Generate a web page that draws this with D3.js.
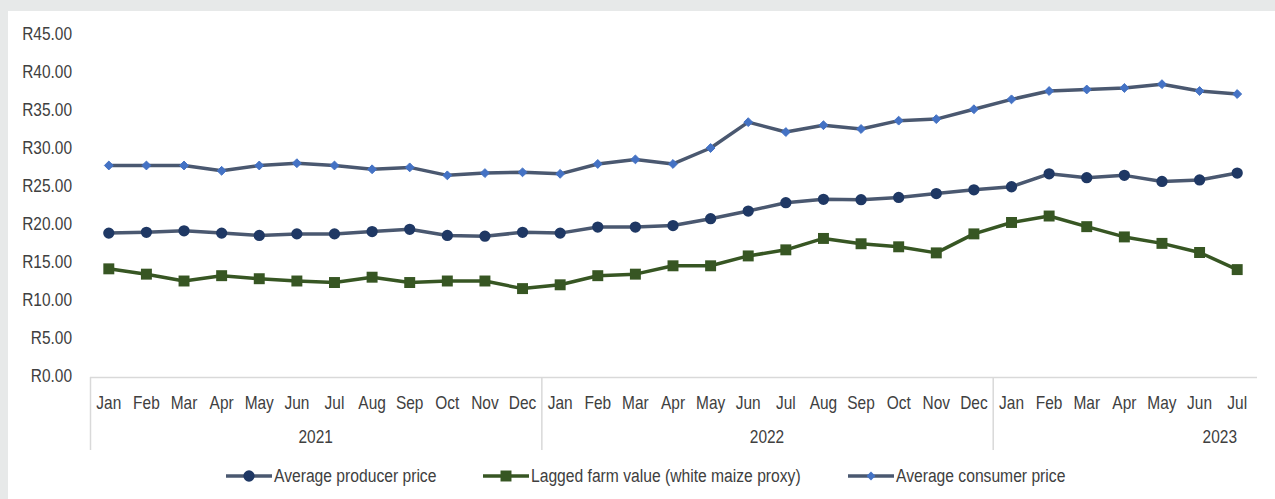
<!DOCTYPE html>
<html>
<head>
<meta charset="utf-8">
<script src="https://cdn.jsdelivr.net/npm/d3@7"></script>
<style>
  html, body { margin: 0; padding: 0; background: #e7e9e9; }
  svg { display: block; }
  text { font-family: 'Liberation Sans', Arial, sans-serif; fill: #404040; }
</style>
</head>
<body>
<svg id="chart" width="1275" height="499"></svg>
<script>
const months = ["Jan","Feb","Mar","Apr","May","Jun","Jul","Aug","Sep","Oct","Nov","Dec",
                "Jan","Feb","Mar","Apr","May","Jun","Jul","Aug","Sep","Oct","Nov","Dec",
                "Jan","Feb","Mar","Apr","May","Jun","Jul"];
const years = ["2021","2022","2023"];
const yearSpans = [12, 12, 7];
const yTicks = [0,5,10,15,20,25,30,35,40,45];

const producer = [18.8,18.9,19.1,18.8,18.5,18.7,18.7,19.0,19.3,18.5,18.4,18.9,
                  18.8,19.6,19.6,19.8,20.7,21.7,22.8,23.25,23.2,23.5,24.0,24.5,
                  24.9,26.6,26.1,26.4,25.6,25.8,26.7];
const lagged =   [14.1,13.4,12.5,13.2,12.8,12.5,12.3,13.0,12.3,12.5,12.5,11.5,
                  12.0,13.2,13.4,14.5,14.5,15.8,16.6,18.1,17.4,17.0,16.2,18.7,
                  20.2,21.05,19.65,18.3,17.45,16.25,14.0];
const consumer = [27.7,27.7,27.7,27.0,27.7,28.0,27.7,27.2,27.45,26.4,26.7,26.8,
                  26.6,27.9,28.5,27.9,30.0,33.4,32.1,33.0,32.5,33.6,33.8,35.1,
                  36.4,37.5,37.7,37.9,38.4,37.5,37.1];

const seriesNames = ["Average producer price","Lagged farm value (white maize proxy)","Average consumer price"];

const SX = 0.86;
const FS = 18;

const svg = d3.select("#chart");
svg.append("rect").attr("x", 8).attr("y", 11).attr("width", 1275 - 8).attr("height", 499 - 11).attr("fill", "#ffffff");

const plotLeft = 90, plotRight = 1256, plotTop = 34, plotBottom = 376;
const x = d3.scaleBand().domain(d3.range(months.length)).range([plotLeft, plotRight]).padding(0);
const y = d3.scaleLinear().domain([0, 45]).range([plotBottom, plotTop]);
const cx = i => x(i) + x.bandwidth() / 2;

function addText(parent, px, py, txt, anchor, sx) {
  return parent.append("text")
    .attr("transform", `translate(${px},${py}) scale(${sx || SX},1)`)
    .attr("text-anchor", anchor || "start")
    .attr("font-size", FS)
    .text(txt);
}

// y axis labels
const yAxis = d3.axisLeft(y).tickValues(yTicks).tickSize(0).tickPadding(0)
  .tickFormat(d => "R" + d3.format(".2f")(d));
const yg = svg.append("g").attr("transform", "translate(72,0)").call(yAxis);
yg.select(".domain").remove();
yg.selectAll("text").attr("font-size", FS).attr("fill", "#404040")
  .attr("x", 0).attr("transform", `scale(${SX},1)`)
  .style("font-family", "'Liberation Sans', Arial, sans-serif");

// x axis frame
const axisColor = "#d9d9d9";
svg.append("line").attr("x1", plotLeft).attr("x2", plotRight + 1).attr("y1", 377.5).attr("y2", 377.5)
  .attr("stroke", axisColor).attr("stroke-width", 1.5);
let acc = 0;
const boundaries = [0];
yearSpans.forEach(s => { acc += s; boundaries.push(acc); });
boundaries.slice(0, 3).forEach(b => {
  svg.append("line").attr("x1", x(b) + 0.5).attr("x2", x(b) + 0.5).attr("y1", 377).attr("y2", 450)
    .attr("stroke", axisColor).attr("stroke-width", 1.5);
});

// month labels
const mg = svg.append("g");
months.forEach((m, i) => addText(mg, cx(i), 409, m, "middle"));

// year labels
years.forEach((yr, k) => {
  const start = boundaries[k], end = boundaries[k + 1];
  let xpos = (x(start) + x(end - 1) + x.bandwidth()) / 2;
  let anchor = "middle";
  if (k === 2) { xpos = plotRight - 19; anchor = "end"; }
  addText(svg, xpos, 443, yr, anchor);
});

// lines
const lineGen = d3.line().x((d, i) => cx(i)).y(d => y(d));
const lineStroke = "#4a5870";
svg.append("path").datum(consumer).attr("d", lineGen).attr("fill", "none")
  .attr("stroke", lineStroke).attr("stroke-width", 3.5).attr("stroke-linejoin", "round");
svg.append("path").datum(producer).attr("d", lineGen).attr("fill", "none")
  .attr("stroke", lineStroke).attr("stroke-width", 3.5).attr("stroke-linejoin", "round");
svg.append("path").datum(lagged).attr("d", lineGen).attr("fill", "none")
  .attr("stroke", "#375623").attr("stroke-width", 3.5).attr("stroke-linejoin", "round");

// markers
const circ = d3.symbol().type(d3.symbolCircle).size(100);
const sq = d3.symbol().type(d3.symbolSquare).size(120);
const dia = d3.symbol().type(d3.symbolDiamond2).size(50);
svg.append("g").selectAll("path").data(producer).join("path")
  .attr("transform", (d, i) => `translate(${cx(i)},${y(d)})`).attr("d", circ).attr("fill", "#1f3864");
svg.append("g").selectAll("path").data(lagged).join("path")
  .attr("transform", (d, i) => `translate(${cx(i)},${y(d)})`).attr("d", sq).attr("fill", "#375623");
svg.append("g").selectAll("path").data(consumer).join("path")
  .attr("transform", (d, i) => `translate(${cx(i)},${y(d)})`).attr("d", dia)
  .attr("fill", "#4472c4").attr("stroke", "#4472c4").attr("stroke-width", 1);

// legend
const legY = 476;
const legendItems = [
  { name: seriesNames[0], x0: 226, stroke: lineStroke, sym: circ, fill: "#1f3864" },
  { name: seriesNames[1], x0: 483, stroke: "#375623", sym: sq, fill: "#375623" },
  { name: seriesNames[2], x0: 848, stroke: lineStroke, sym: dia, fill: "#4472c4" }
];
legendItems.forEach(it => {
  const g = svg.append("g");
  g.append("line").attr("x1", it.x0).attr("x2", it.x0 + 46).attr("y1", legY).attr("y2", legY)
    .attr("stroke", it.stroke).attr("stroke-width", 3.5);
  g.append("path").attr("transform", `translate(${it.x0 + 23},${legY})`).attr("d", it.sym).attr("fill", it.fill);
  addText(g, it.x0 + 48, legY + 6, it.name, "start", 0.87);
});
</script>
</body>
</html>
